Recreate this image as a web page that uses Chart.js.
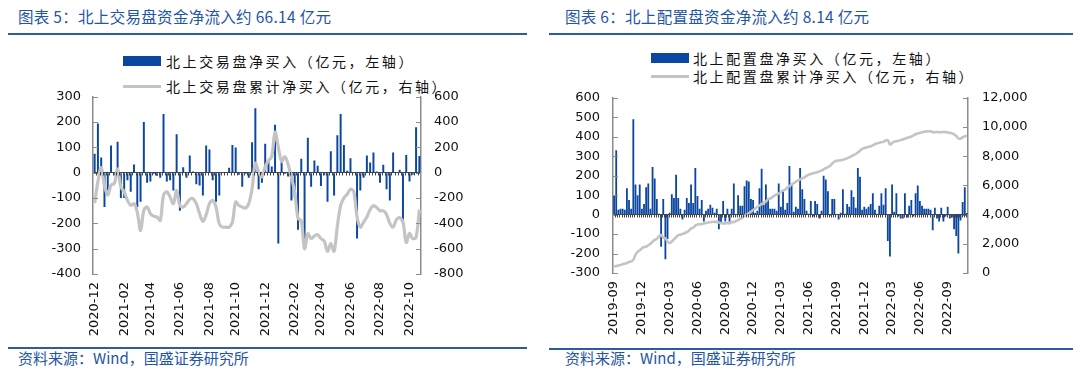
<!DOCTYPE html>
<html>
<head>
<meta charset="utf-8">
<script src="https://cdn.jsdelivr.net/npm/chart.js@4"></script>
<style>
  html, body { margin: 0; padding: 0; background: #fff; }
  body { width: 1080px; height: 379px; position: relative; overflow: hidden;
         font-family: "Noto Sans CJK SC", "DejaVu Sans", sans-serif; }
  .title { position: absolute; top: 5px; font-size: 15.5px; letter-spacing: 0.3px; color: #2455a3; white-space: nowrap; }
  .rule { position: absolute; height: 2px; background: #2c5aa6; }
  .src { position: absolute; top: 347px; font-size: 15px; color: #2455a3; white-space: nowrap; }
  .box { position: absolute; top: 76px; width: 540px; height: 270px; }
  .lg { position: absolute; font-size: 14px; letter-spacing: 2.6px; color: #111; white-space: nowrap; line-height: 18px; }
  .sw { position: absolute; }
</style>
</head>
<body>

<!-- 左图：北上交易盘 -->
<div class="title" style="left:18px">图表 5：北上交易盘资金净流入约 66.14 亿元</div>
<div class="rule" style="left:8px; width:519px; top:33px"></div>
<div class="sw" style="left:123px; top:56px; width:38px; height:10px; background:#0b46a0"></div>
<div class="lg" style="left:166px; top:52px">北上交易盘净买入（亿元，左轴）</div>
<div class="sw" style="left:123px; top:85px; width:38px; height:3px; background:#c4c4c4"></div>
<div class="lg" style="left:166px; top:77px">北上交易盘累计净买入（亿元，右轴）</div>
<div class="box" style="left:0px"><canvas id="chartTrade"></canvas></div>
<div class="rule" style="left:8px; width:519px; top:347px"></div>
<div class="src" style="left:18px">资料来源：Wind，国盛证券研究所</div>

<!-- 右图：北上配置盘 -->
<div class="title" style="left:565px">图表 6：北上配置盘资金净流入约 8.14 亿元</div>
<div class="rule" style="left:549px; width:524px; top:33px"></div>
<div class="sw" style="left:651px; top:53px; width:38px; height:10px; background:#0b46a0"></div>
<div class="lg" style="left:693px; top:49px">北上配置盘净买入（亿元，左轴）</div>
<div class="sw" style="left:651px; top:75px; width:38px; height:3px; background:#c4c4c4"></div>
<div class="lg" style="left:693px; top:67px">北上配置盘累计净买入（亿元，右轴）</div>
<div class="box" style="left:540px"><canvas id="chartAlloc"></canvas></div>
<div class="rule" style="left:549px; width:524px; top:348px"></div>
<div class="src" style="left:565px">资料来源：Wind，国盛证券研究所</div>

<script>
// ---------------------------------------------------------
// ข้อมูล: 北上交易盘 (รายสัปดาห์ 2020-12 ถึง 2022-11)
// ---------------------------------------------------------
const tradeStart = '2020-12-04';
const tradeNet = [
  75, 195, 60, -135, -70, 108, -10, 122, -100, -100,
  -30, -75, 33, -135, -115, 200, -40, -35, -5, -12,
  -20, 232, -35, -30, -70, 152, -150, 22, -20, 68,
  5, -45, -50, -90, 108, 92, -30, -115, -90, 0,
  3, 20, 110, 100, -8, -55, -5, -20, 120, 255,
  -65, -40, 115, 45, 25, 190, -280, 50, -5, -15,
  -110, -100, -225, 55, -275, 138, -55, 48, 28, -52,
  -10, -115, 85, -90, 148, 232, 110, 8, 57, 0,
  -260, -70, -20, 68, 40, 80, 5, -40, 32, -65,
  -110, 80, 0, 12, -190, 70, -35, -8, 180, 66.14
];
const tradeCum = [
  -240, -70, 40, -100, -178, -98, -85, 30, -112, -150,
  -218, -258, -244, -311, -457, -297, -271, -324, -343, -350,
  -377, -178, -151, -191, -244, -140, -258, -271, -244, -210,
  -204, -244, -324, -385, -332, -244, -218, -271, -404, -430,
  -430, -430, -390, -231, -258, -271, -279, -244, -125, 74,
  8, -32, 48, 95, 130, 320, 200, 90, 127, 65,
  -40, -150, -360, -380, -600, -483, -520, -500, -490, -520,
  -540, -620, -560, -620, -420, -260, -200, -170, -130, -150,
  -350, -430, -390, -350, -290, -260, -275, -300, -300, -330,
  -400, -430, -370, -355, -390, -550, -480, -520, -510, -290
];
const tradeTickMonths = [12, 2, 4, 6, 8, 10];

// ---------------------------------------------------------
// ข้อมูล: 北上配置盘 (รายสัปดาห์ 2019-09 ถึง 2022-11)
// ---------------------------------------------------------
const allocStart = '2019-09-06';
const allocNet = [
  100, 330, 25, 30, 30, 25, 135, 75, 30, 490,
  155, 100, 155, 30, 55, 140, 160, 30, 245, 185,
  80, 5, -165, 80, -230, -125, 10, 105, 85, 205,
  85, 30, -25, 25, 85, 60, 155, 60, 240, 95,
  30, 75, -35, 20, 30, 50, 35, 10, 30, -75,
  -40, 70, -35, 30, -50, 30, 160, 0, 100, 45,
  45, 145, 175, 170, 80, 75, 10, 20, 135, 235,
  50, 155, 85, 30, 30, 30, 20, 160, 40, 120,
  25, 60, 250, 155, 15, 40, 30, 240, 130, 80,
  20, 5, 70, -10, 70, 55, -20, 20, 200, 180,
  120, -5, 80, 80, 0, -25, 10, 130, 5, 55,
  40, 125, 90, 35, 240, 195, 25, 40, 30, 40,
  55, 110, 25, 5, 45, 110, 50, 135, -135, -215,
  155, 15, 110, -10, -20, -20, 110, -15, 45, 75,
  -10, 110, 150, 70, 45, 30, 30, 30, 25, -80,
  35, -20, -35, 35, -35, -10, 40, -20, -15, -75,
  -110, -200, -30, 65, 140, 8.14
];
const allocCum = [
  450, 480, 520, 540, 600, 640, 680, 760, 800, 900,
  1250, 1450, 1550, 1700, 1780, 1800, 1900, 2000, 2150, 2270,
  2350, 2500, 2600, 2420, 2380, 2150, 2050, 2150, 2300, 2450,
  2600, 2620, 2680, 2720, 2800, 2900, 3050, 3100, 3250, 3320,
  3340, 3360, 3400, 3420, 3460, 3480, 3510, 3500, 3500, 3460,
  3420, 3400, 3400, 3420, 3450, 3480, 3500, 3560, 3620, 3700,
  3780, 3900, 4000, 4080, 4200, 4300, 4420, 4520, 4620, 4720,
  4800, 4900, 5050, 5100, 5200, 5300, 5380, 5450, 5550, 5650,
  5700, 5850, 5950, 6050, 6150, 6250, 6350, 6420, 6480, 6550,
  6650, 6730, 6780, 6830, 6860, 6900, 6960, 7020, 7100, 7180,
  7250, 7350, 7500, 7620, 7680, 7700, 7720, 7760, 7800, 7850,
  7920, 8000, 8080, 8150, 8250, 8380, 8500, 8560, 8600, 8640,
  8680, 8750, 8820, 8880, 8920, 8960, 9000, 9080, 9100, 8800,
  8900, 9000, 9020, 9050, 9100, 9150, 9200, 9250, 9300, 9350,
  9420, 9500, 9550, 9600, 9640, 9680, 9700, 9710, 9700, 9650,
  9640, 9660, 9650, 9640, 9660, 9650, 9620, 9600, 9560, 9500,
  9380, 9220, 9200, 9300, 9350, 9420
];
const allocTickMonths = [9, 12, 3, 6];

const BAR_BLUE = '#0b46a0';
const LINE_GRAY = '#c4c4c4';
const AXIS_GRAY = '#8c8c8c';

// วันที่รายสัปดาห์ (หมวดหมู่ของแกน X)
function weeklyLabels(start, n) {
  const out = [];
  const d = new Date(start + 'T00:00:00Z');
  for (let i = 0; i < n; i++) {
    out.push(d.toISOString().slice(0, 10));
    d.setUTCDate(d.getUTCDate() + 7);
  }
  return out;
}

// ขีดสั้น ๆ ด้านในของแกน Y และขีดบนเส้นศูนย์ (แบบ Excel)
const innerTicks = {
  id: 'innerTicks',
  afterDatasetsDraw(chart) {
    const ctx = chart.ctx, a = chart.chartArea;
    ctx.save();
    ctx.strokeStyle = AXIS_GRAY;
    ctx.lineWidth = 1;
    ['y', 'y1'].forEach(id => {
      const s = chart.scales[id];
      s.ticks.forEach(t => {
        const py = Math.round(s.getPixelForValue(t.value)) + 0.5;
        const x0 = id === 'y' ? a.left : a.right;
        const x1 = id === 'y' ? a.left + 5 : a.right - 5;
        ctx.beginPath(); ctx.moveTo(x0, py); ctx.lineTo(x1, py); ctx.stroke();
      });
    });
    // ขีดเล็ก ๆ ตามแนวเส้น 0
    const xs = chart.scales.x;
    const zy = Math.round(chart.scales.y.getPixelForValue(0)) + 0.5;
    const n = chart.data.labels.length;
    const step = (a.right - a.left) / n;
    ctx.strokeStyle = '#444';
    ctx.beginPath();
    for (let i = 1; i < n; i++) {
      const px = Math.round(a.left + i * step) + 0.5;
      ctx.moveTo(px, zy - 1.5); ctx.lineTo(px, zy + 2);
    }
    ctx.stroke();
    ctx.restore();
  }
};

function makeChart(canvasId, o) {
  const labels = weeklyLabels(o.start, o.net.length);
  const shown = {};
  labels.forEach((l, i) => {
    const ym = l.slice(0, 7);
    const m = +l.slice(5, 7);
    if (o.tickMonths.includes(m) && !(ym in shown)) shown[ym] = i;
  });
  const tickFont = { family: 'DejaVu Sans', size: 13 };

  return new Chart(document.getElementById(canvasId), {
    data: {
      labels: labels,
      datasets: [
        {
          type: 'line',
          data: o.cum,
          yAxisID: 'y1',
          borderColor: LINE_GRAY,
          borderWidth: o.lineWidth,
          pointRadius: 0,
          tension: 0.35,
          order: 0
        },
        {
          type: 'bar',
          data: o.net,
          yAxisID: 'y',
          backgroundColor: BAR_BLUE,
          categoryPercentage: 1,
          barPercentage: o.barPct,
          order: 1
        }
      ]
    },
    options: {
      responsive: true,
      maintainAspectRatio: false,
      animation: false,
      layout: { padding: { top: 8, left: 0, right: 0, bottom: 0 } },
      plugins: { legend: { display: false }, tooltip: { enabled: false } },
      scales: {
        x: {
          grid: { display: false, drawTicks: false },
          border: { display: false },
          ticks: {
            autoSkip: false, maxRotation: 90, minRotation: 90, padding: 8,
            color: '#111', font: tickFont,
            callback: function(v, i) {
              const l = labels[i];
              return shown[l.slice(0, 7)] === i ? l.slice(0, 7) : '';
            }
          },
          afterFit: s => { s.height = o.xHeight; }
        },
        y: {
          position: 'left',
          min: o.yMin, max: o.yMax,
          ticks: { stepSize: o.yStep, autoSkip: false, padding: o.yPad, color: '#111', font: tickFont },
          grid: {
            drawTicks: false,
            color: c => (c.tick && c.tick.value === 0) ? '#444' : 'rgba(0,0,0,0)',
            lineWidth: 1
          },
          border: { color: AXIS_GRAY, width: 1.5 },
          afterFit: s => { s.width = o.yWidth; }
        },
        y1: {
          position: 'right',
          min: o.y1Min, max: o.y1Max,
          ticks: {
            stepSize: o.y1Step, autoSkip: false, padding: o.y1Pad, color: '#111', font: tickFont,
            callback: v => v.toLocaleString('en-US')
          },
          grid: { drawOnChartArea: false, drawTicks: false },
          border: { color: AXIS_GRAY, width: 1.5 },
          afterFit: s => { s.width = o.y1Width; }
        }
      }
    },
    plugins: [innerTicks]
  });
}

makeChart('chartTrade', {
  start: tradeStart, net: tradeNet, cum: tradeCum, tickMonths: tradeTickMonths,
  yMin: -400, yMax: 300, yStep: 100, y1Min: -800, y1Max: 600, y1Step: 200,
  yWidth: 93, y1Width: 119, yPad: 12, y1Pad: 13, xHeight: 72,
  barPct: 0.6, lineWidth: 3.2
});

makeChart('chartAlloc', {
  start: allocStart, net: allocNet, cum: allocCum, tickMonths: allocTickMonths,
  yMin: -300, yMax: 600, yStep: 100, y1Min: 0, y1Max: 12000, y1Step: 2000,
  yWidth: 73, y1Width: 112, yPad: 13, y1Pad: 14, xHeight: 73,
  barPct: 0.85, lineWidth: 2.6
});
</script>
</body>
</html>
